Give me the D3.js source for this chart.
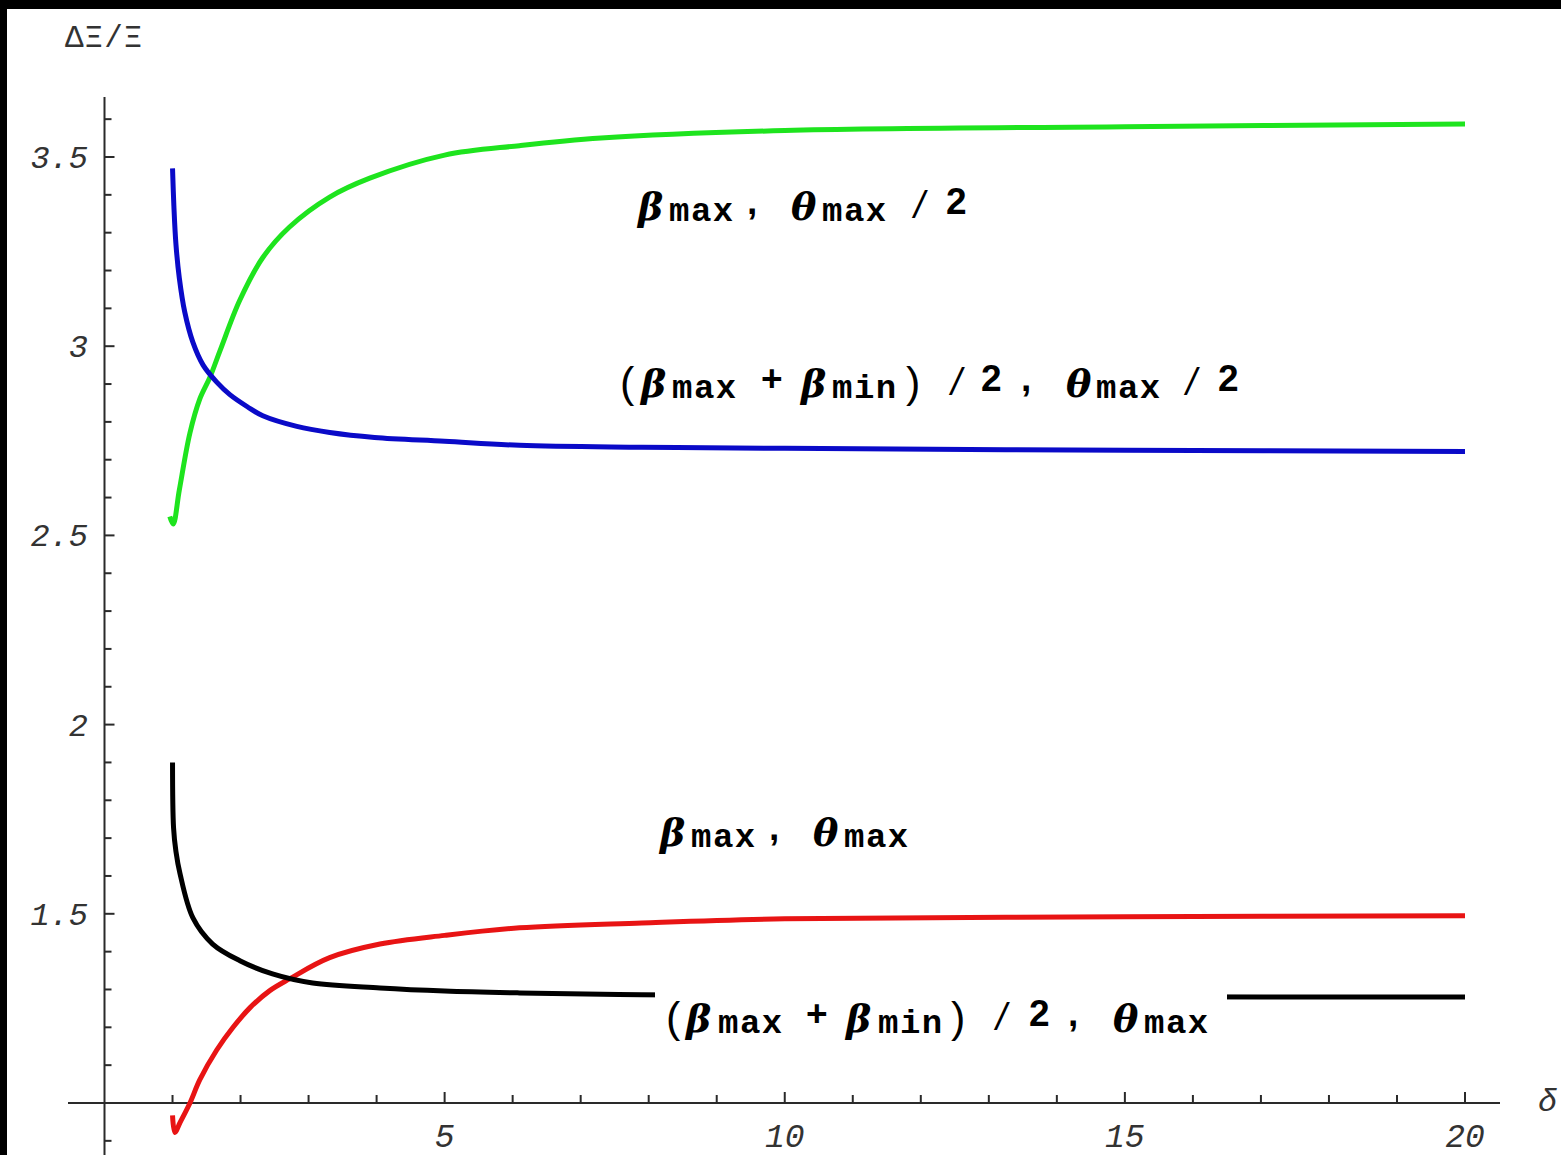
<!DOCTYPE html>
<html>
<head>
<meta charset="utf-8">
<script src="https://cdn.jsdelivr.net/npm/d3@7"></script>
<style>
  html, body { margin: 0; padding: 0; background: #fff; }
  svg { display: block; }
  text { white-space: pre; }
</style>
</head>
<body>
<script>
// ΔΞ/Ξ versus δ for four (β, θ) choices, each curve as [δ, ΔΞ/Ξ] pairs
const betaMaxHalfTheta = [
  [0.96, 2.55], [1.01, 2.53], [1.10, 2.62], [1.255, 2.77], [1.40, 2.86],
  [1.55, 2.918], [1.70, 2.989], [1.99, 3.122], [2.33, 3.235], [2.72, 3.315],
  [3.31, 3.394], [3.9, 3.444], [5, 3.505], [6.1, 3.53], [7.3, 3.55],
  [10, 3.57], [15, 3.58], [20, 3.587]
];
const betaMeanHalfTheta = [
  [1.0, 3.47], [1.02, 3.37], [1.05, 3.27], [1.10, 3.18], [1.18, 3.09],
  [1.30, 3.01], [1.45, 2.95], [1.65, 2.905], [1.843, 2.872], [2.1, 2.84],
  [2.327, 2.816], [2.827, 2.788], [3.311, 2.772], [3.97, 2.759], [5, 2.749],
  [6.1, 2.738], [7.9, 2.733], [10, 2.73], [15, 2.725], [20, 2.722]
];
const betaMaxTheta = [
  [1.0, 0.967], [1.035, 0.922], [1.11, 0.948], [1.256, 1.0], [1.40, 1.061],
  [1.65, 1.14], [1.89, 1.20], [2.14, 1.252], [2.43, 1.297], [2.72, 1.328],
  [3.31, 1.384], [4.05, 1.42], [5, 1.443], [6.1, 1.463], [7.9, 1.476],
  [10, 1.487], [15, 1.492], [20, 1.495]
];
const betaMeanTheta = [
  [1.0, 1.9], [1.015, 1.728], [1.05, 1.665], [1.11, 1.606], [1.30, 1.489],
  [1.59, 1.42], [1.99, 1.376], [2.47, 1.341], [3.06, 1.317], [4.05, 1.304],
  [5, 1.296], [6.1, 1.291], [7.9, 1.286], [10, 1.284], [15, 1.281], [20, 1.28]
];

const seriesColors = ["#1ee41e", "#0a0ac8", "#e81414", "#000000"];

const xTicksMinor = d3.range(1, 21);
const xTickLabels = [5, 10, 15, 20];
const yTicksMinor = d3.range(9, 37).map(d => d / 10);
const yTickLabels = ["1.5", "2", "2.5", "3", "3.5"];

// Curve labels: s = Greek symbol, b = subscript, o = digit/operator, d = slash, p = parenthesis
const curveLabels = [
  [["s", "β"], ["b", "max"], ["o", ","], ["s", "θ"], ["b", "max"], ["d", "/"], ["o", "2"]],
  [["p", "("], ["s", "β"], ["b", "max"], ["o", "+"], ["s", "β"], ["b", "min"], ["p", ")"],
   ["d", "/"], ["o", "2"], ["o", ","], ["s", "θ"], ["b", "max"], ["d", "/"], ["o", "2"]],
  [["s", "β"], ["b", "max"], ["o", ","], ["s", "θ"], ["b", "max"]],
  [["p", "("], ["s", "β"], ["b", "max"], ["o", "+"], ["s", "β"], ["b", "min"], ["p", ")"],
   ["d", "/"], ["o", "2"], ["o", ","], ["s", "θ"], ["b", "max"]]
];

const W = 1561, H = 1155;
const svg = d3.select("body").append("svg").attr("width", W).attr("height", H);
svg.append("rect").attr("width", W).attr("height", H).attr("fill", "#fff");

const x = d3.scaleLinear().domain([0, 20]).range([104.5, 1465]);
const y = d3.scaleLinear().domain([1, 3.5]).range([1103, 157]);

const axisColor = "#2a2a2a";
const tickFont = "'Liberation Mono', monospace";

// axes crossing at (0, 1)
svg.append("line").attr("x1", 68).attr("x2", 1500).attr("y1", y(1)).attr("y2", y(1))
  .attr("stroke", axisColor).attr("stroke-width", 2);
svg.append("line").attr("x1", x(0)).attr("x2", x(0)).attr("y1", 97).attr("y2", H)
  .attr("stroke", axisColor).attr("stroke-width", 2);

svg.append("g").selectAll("line").data(xTicksMinor).join("line")
  .attr("x1", d => x(d)).attr("x2", d => x(d))
  .attr("y1", y(1)).attr("y2", d => y(1) - (d % 5 === 0 ? 11 : 8))
  .attr("stroke", axisColor).attr("stroke-width", 2);

svg.append("g").selectAll("line").data(yTicksMinor).join("line")
  .attr("x1", x(0)).attr("x2", d => x(0) + (Math.round(d * 10) % 5 === 0 ? 10 : 7))
  .attr("y1", d => y(d)).attr("y2", d => y(d))
  .attr("stroke", axisColor).attr("stroke-width", 2);

svg.append("g").selectAll("text").data(xTickLabels).join("text")
  .attr("x", d => x(d)).attr("y", 1147)
  .attr("text-anchor", "middle")
  .attr("font-family", tickFont).attr("font-style", "italic").attr("font-size", 33)
  .attr("fill", "#333").text(d => d);

svg.append("g").selectAll("text").data(yTickLabels).join("text")
  .attr("x", 88).attr("y", d => y(+d) + 11)
  .attr("text-anchor", "end")
  .attr("font-family", tickFont).attr("font-style", "italic").attr("font-size", 32)
  .attr("fill", "#333").text(d => d);

svg.append("text").attr("x", 65).attr("y", 47)
  .attr("font-family", tickFont).attr("font-size", 31).attr("letter-spacing", 1).attr("fill", "#333")
  .text("ΔΞ/Ξ");
svg.append("text").attr("x", 1538).attr("y", 1111)
  .attr("font-family", tickFont).attr("font-style", "italic").attr("font-size", 32).attr("fill", "#333")
  .text("δ");

// curves
const line = d3.line().x(d => x(d[0])).y(d => y(d[1])).curve(d3.curveCatmullRom.alpha(0.5));
const allSeries = [betaMaxHalfTheta, betaMeanHalfTheta, betaMaxTheta, betaMeanTheta];
svg.append("g").selectAll("path").data(allSeries).join("path")
  .attr("d", line)
  .attr("fill", "none")
  .attr("stroke", (d, i) => seriesColors[i])
  .attr("stroke-width", 5)
  .attr("stroke-linejoin", "round");

// curve label placement: start x, baseline, and per-segment x offsets
const labelPlacement = [
  { x0: 638, base: 216, dx: [0, 31, 109, 153, 184, 276, 308] },
  { x0: 620, base: 393, dx: [0, 21, 52, 141, 181, 212, 286, 331, 361, 401, 446, 476, 566, 598] },
  { x0: 660, base: 842, dx: [0, 31, 109, 153, 184] },
  { x0: 666, base: 1028, dx: [0, 20, 52, 140, 180, 212, 285, 330, 363, 402, 447, 478] }
];

// the lower label sits on a white box over the black curve
svg.append("rect").attr("x", 655).attr("y", 982).attr("width", 572).attr("height", 64)
  .attr("fill", "#fff");

const segStyle = {
  s: { family: "'DejaVu Serif', serif", style: "italic", weight: "bold", size: 38, dy: 4, ls: 0 },
  b: { family: "'Liberation Mono', monospace", style: "normal", weight: "bold", size: 34, dy: 5, ls: 1.5 },
  o: { family: "'Liberation Sans', sans-serif", style: "normal", weight: "bold", size: 37, dy: -2, ls: 0 },
  d: { family: "'Liberation Sans', sans-serif", style: "italic", weight: "normal", size: 38, dy: 2, ls: 0 },
  p: { family: "'Liberation Sans', sans-serif", style: "normal", weight: "normal", size: 43, dy: 4, ls: 0 }
};

curveLabels.forEach((segs, i) => {
  const p = labelPlacement[i];
  const t = svg.append("text").attr("fill", "#000");
  segs.forEach(([k, str], j) => {
    const st = segStyle[k];
    t.append("tspan")
      .attr("x", p.x0 + p.dx[j])
      .attr("y", p.base + st.dy)
      .attr("font-family", st.family)
      .attr("font-style", st.style)
      .attr("font-weight", st.weight)
      .attr("font-size", st.size)
      .attr("letter-spacing", st.ls)
      .text(str);
  });
});

// dark frame strips along the top and left edges
svg.append("rect").attr("x", 0).attr("y", 0).attr("width", W).attr("height", 9).attr("fill", "#000");
svg.append("rect").attr("x", 0).attr("y", 0).attr("width", 7).attr("height", H).attr("fill", "#000");
</script>
</body>
</html>
